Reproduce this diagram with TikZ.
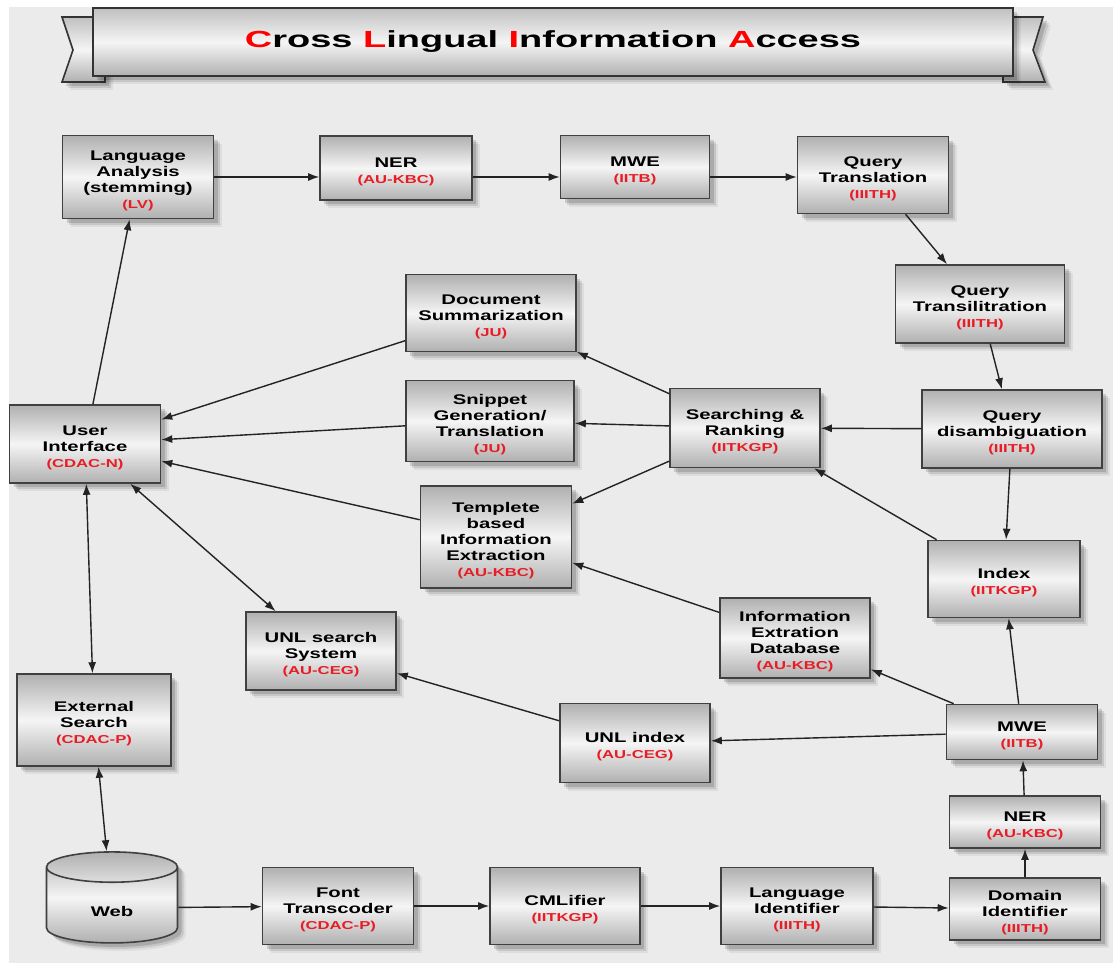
\documentclass[tikz,border=0pt]{standalone}
\usepackage{fontspec}
\newfontfamily\boxfont{Liberation Sans}[FakeStretch=1.45]
\newfontfamily\titlefont{Liberation Sans}[FakeStretch=1.63]
\usetikzlibrary{arrows.meta,shapes.geometric,shadows}
\definecolor{bggray}{RGB}{235,235,235}
\definecolor{boxdark}{RGB}{176,176,176}
\definecolor{boxlight}{RGB}{245,245,245}
\definecolor{orgred}{RGB}{232,28,36}
\definecolor{linegray}{RGB}{35,35,35}
\newcommand{\boxtext}[2]{\rule{0pt}{9pt}#1\\{\fontsize{5.75}{8}\selectfont\color{orgred}(#2)}}

\begin{document}
\begin{tikzpicture}[x=0.5pt,y=-0.5pt,
  softshadow/.style={
    drop shadow={shadow xshift=4pt, shadow yshift=-4pt, opacity=0.06, fill=black},
    drop shadow={shadow xshift=3pt, shadow yshift=-3pt, opacity=0.10, fill=black},
    drop shadow={shadow xshift=2pt, shadow yshift=-2pt, opacity=0.14, fill=black}},
  box/.style={draw=black!75, line width=0.8pt, top color=boxdark, bottom color=boxdark,
    middle color=boxlight, minimum width=75pt, minimum height=39pt, align=center,
    inner sep=2pt, font=\boxfont\bfseries\fontsize{7}{8}\selectfont, softshadow},
  cyl/.style={box, cylinder, shape border rotate=90, aspect=0.6},
  banner/.style={draw=black!80, line width=0.8pt, top color=boxdark!80, bottom color=boxdark,
    middle color=boxlight, softshadow},
  arr/.style={-{Latex[length=5.5pt,width=4pt]}, line width=0.7pt, draw=linegray},
  darr/.style={{Latex[length=5.5pt,width=4pt]}-{Latex[length=5.5pt,width=4pt]}, line width=0.7pt, draw=linegray}
]
\useasboundingbox (0,0) rectangle (1113,963);
\fill[bggray] (9,7) rectangle (1113,963);

\path[banner] (62,17) -- (105,17) -- (105,82) -- (62,82) -- (73,50) -- cycle;
\path[banner] (1043,17) -- (1003,17) -- (1003,82) -- (1045,82) -- (1033,50) -- cycle;
\node[banner, minimum width=460pt, minimum height=34pt, inner sep=0pt,
  font=\titlefont\bfseries\fontsize{11.65}{14}\selectfont] (title) at (553,42)
  {\textcolor{red}{C}ross \textcolor{red}{L}ingual \textcolor{red}{I}nformation \textcolor{red}{A}ccess};

\node[box, minimum width=75.5pt, minimum height=41.5pt] (la) at (138,177) {\boxtext{Language\\Analysis\\(stemming)}{LV}};
\node[box, minimum width=76pt, minimum height=32pt] (ner) at (396,168) {\boxtext{NER}{AU-KBC}};
\node[box, minimum width=74.5pt, minimum height=31.5pt] (mwe) at (635,167) {\boxtext{MWE}{IITB}};
\node[box, minimum width=75.5pt, minimum height=38.5pt] (qt) at (873,175) {\boxtext{Query\\Translation}{IIITH}};
\node[box, minimum width=84.5pt] (qtl) at (980,304) {\boxtext{Query\\Transilitration}{IIITH}};
\node[box, minimum width=85pt, minimum height=38.5pt] (ds) at (491,313) {\boxtext{Document\\Summarization}{JU}};
\node[box, minimum width=84pt, minimum height=40.5pt] (sg) at (490,421) {\boxtext{Snippet\\Generation/\\Translation}{JU}};
\node[box, minimum height=39.5pt] (sr) at (745,428) {\boxtext{Searching \&\\Ranking}{IITKGP}};
\node[box, minimum width=90pt] (qd) at (1012,429) {\boxtext{Query\\disambiguation}{IIITH}};
\node[box, minimum width=75.5pt] (ui) at (85,444) {\boxtext{User\\Interface}{CDAC-N}};
\node[box, minimum width=75.5pt, minimum height=51pt] (tie) at (496,537) {\boxtext{Templete\\based\\Information\\Extraction}{AU-KBC}};
\node[box, minimum width=76pt, minimum height=38.5pt] (idx) at (1004,579) {\boxtext{Index}{IITKGP}};
\node[box, minimum height=40pt] (iedb) at (795,638) {\boxtext{Information\\Extration\\Database}{AU-KBC}};
\node[box] (unls) at (321,651) {\boxtext{UNL search\\System}{AU-CEG}};
\node[box, minimum width=77pt, minimum height=46pt] (es) at (94,720) {\boxtext{External\\Search}{CDAC-P}};
\node[box, minimum height=39.5pt] (unli) at (635,743) {\boxtext{UNL index}{AU-CEG}};
\node[box, minimum width=75.5pt, minimum height=27.5pt] (mwe2) at (1022,732) {\boxtext{MWE}{IITB}};
\node[box, minimum width=75.5pt, minimum height=26pt] (ner2) at (1025,822) {\boxtext{NER}{AU-KBC}};
\node[cyl, minimum width=65.5pt, minimum height=45.5pt] (web) at (112,908) {\rule{0pt}{9pt}Web};
\node[box, minimum width=75.5pt, minimum height=38.5pt] (ft) at (338,906) {\boxtext{Font\\Transcoder}{CDAC-P}};
\node[box, minimum height=38.5pt] (cml) at (565,906) {\boxtext{CMLifier}{IITKGP}};
\node[box, minimum width=76pt, minimum height=38.5pt] (li) at (797,906) {\boxtext{Language\\Identifier}{IIITH}};
\node[box, minimum width=75.5pt, minimum height=31pt] (di) at (1025,909) {\boxtext{Domain\\Identifier}{IIITH}};

\draw[arr] (la) -- (la -| ner.west);
\draw[arr] (ner.east |- la) -- (la -| mwe.west);
\draw[arr] (mwe.east |- la) -- (la -| qt.west);
\draw[arr] (qt) -- (qtl);
\draw[arr] (qtl) -- (qd);
\draw[arr] (qd) -- (sr);
\draw[arr] (qd) -- (idx);
\draw[arr] (idx) -- (sr);
\draw[arr] (sr) -- (ds);
\draw[arr] (sr) -- (sg);
\draw[arr] (sr) -- (tie);
\draw[arr] (ds) -- (ui);
\draw[arr] (sg) -- (ui);
\draw[arr] (tie) -- (ui);
\draw[arr] (ui) -- (la);
\draw[darr] (ui) -- (unls);
\draw[darr] (ui) -- (es);
\draw[darr] (es) -- (web);
\draw[arr] (web) -- (ft);
\draw[arr] (ft) -- (cml);
\draw[arr] (cml) -- (li);
\draw[arr] (li) -- (di);
\draw[arr] (di) -- (ner2);
\draw[arr] (ner2) -- (mwe2);
\draw[arr] (mwe2) -- (idx);
\draw[arr] (mwe2) -- (iedb);
\draw[arr] (mwe2) -- (unli);
\draw[arr] (unli) -- (unls);
\draw[arr] (iedb) -- (tie);
\end{tikzpicture}
\end{document}
